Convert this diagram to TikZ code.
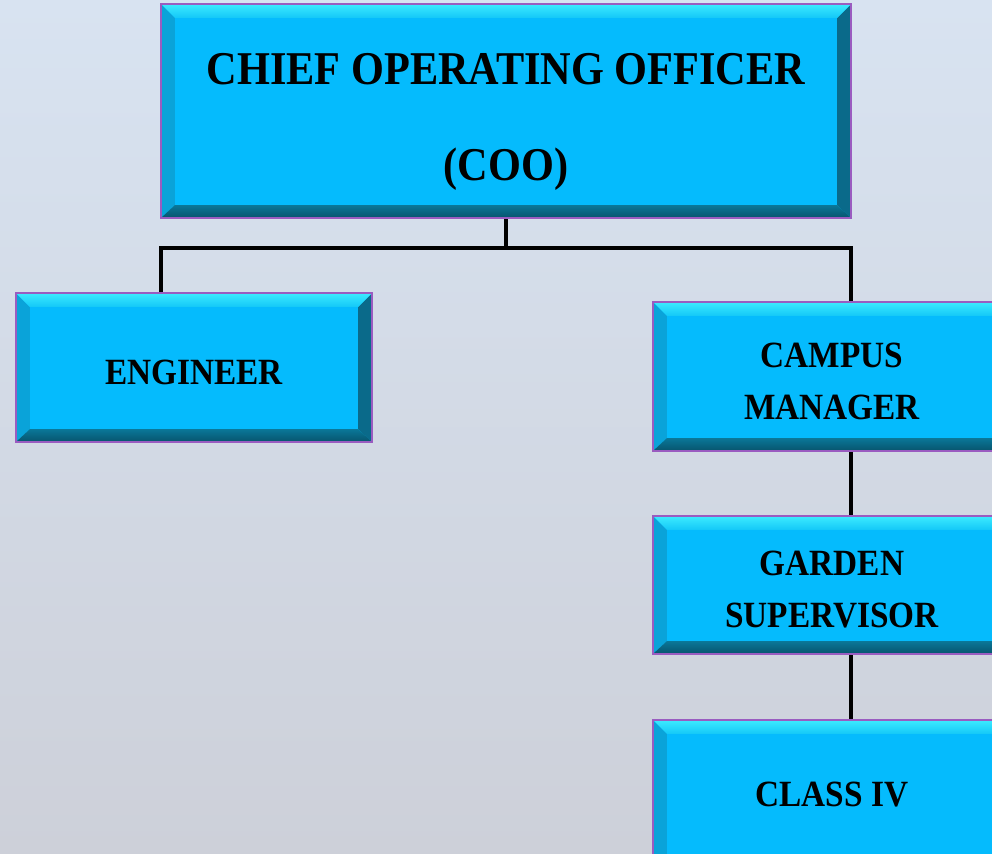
\documentclass[tikz,border=0pt]{standalone}
\usepackage{fontspec}
\setmainfont{Liberation Serif}[FakeStretch=0.9]
\usetikzlibrary{calc}
\definecolor{bgtop}{HTML}{D8E3F1}
\definecolor{bgmid}{HTML}{E6ECF4}
\definecolor{bgbot}{HTML}{CDD0D9}
\definecolor{boxfill}{HTML}{05BBFD}
\definecolor{bevtopA}{HTML}{3EEBFF}
\definecolor{bevtopB}{HTML}{14C8F8}
\definecolor{bevleft}{HTML}{0AA3D9}
\definecolor{bevbotA}{HTML}{0A7798}
\definecolor{bevbotB}{HTML}{07536C}
\definecolor{bevright}{HTML}{0A6A8A}
\definecolor{boxborder}{HTML}{9A5CC0}
\tikzset{
  box/.style={fill=boxfill, draw=none, inner sep=0pt, align=center,
    font=\bfseries\fontsize{37}{52}\selectfont},
  boxtext/.style={box, fill=none},
  conn/.style={line width=4pt, black},
}
\newcommand\bevelbox[1]{%
  \fill[bevleft] (#1.north west) -- ($(#1.north west)+(14,14)$) -- ($(#1.south west)+(14,-13)$) -- (#1.south west) -- cycle;
  \fill[bevright] (#1.north east) -- ($(#1.north east)+(-14,14)$) -- ($(#1.south east)+(-14,-13)$) -- (#1.south east) -- cycle;
  \shade[top color=bevtopA, bottom color=bevtopB] (#1.north west) -- (#1.north east) -- ($(#1.north east)+(-14,14)$) -- ($(#1.north west)+(14,14)$) -- cycle;
  \shade[top color=bevbotA, bottom color=bevbotB] (#1.south west) -- (#1.south east) -- ($(#1.south east)+(-14,-13)$) -- ($(#1.south west)+(14,-13)$) -- cycle;
  \draw[boxborder, line width=2pt] (#1.north west) rectangle (#1.south east);
}
\begin{document}
\begin{tikzpicture}[x=1pt,y=-1pt]
\useasboundingbox (0,0) rectangle (992,853);
\clip (0,0) rectangle (992,853);
\shade[top color=bgtop, middle color=bgmid, bottom color=bgbot] (0,0) rectangle (992,853);

\node[box, minimum width=690pt, minimum height=214pt] (coo) at (506,111) {};
\node[box, minimum width=356pt, minimum height=149pt] (eng) at (194,367.5) {};
\node[box, minimum width=358pt, minimum height=149pt] (camp) at (832,376.5) {};
\node[box, minimum width=358pt, minimum height=138pt] (gard) at (832,585) {};
\node[box, minimum width=358pt, minimum height=148pt] (cls) at (832,794) {};

\coordinate (bl) at (161,248);
\coordinate (br) at (851,248);
\draw[conn] (coo.south) -- (coo.south |- bl);
\draw[conn] (eng.north -| bl) -- (bl) -- (br) -- (camp.north -| br);
\draw[conn] (camp.south -| br) -- (gard.north -| br);
\draw[conn] (gard.south -| br) -- (cls.north -| br);

\bevelbox{coo}
\bevelbox{eng}
\bevelbox{camp}
\bevelbox{gard}
\bevelbox{cls}

\node[boxtext, font=\bfseries\fontsize{47}{96}\selectfont] (coot) at ($(coo.center)+(0,11)$) {CHIEF OPERATING OFFICER\\(COO)};
\node[boxtext] (engt) at ($(eng.center)+(0,5)$) {ENGINEER};
\node[boxtext] (campt) at ($(camp.center)+(0,5)$) {CAMPUS\\MANAGER};
\node[boxtext] (gardt) at ($(gard.center)+(0,5)$) {GARDEN\\SUPERVISOR};
\node[boxtext] (clst) at ($(cls.center)+(0,1)$) {CLASS IV};
\end{tikzpicture}
\end{document}
